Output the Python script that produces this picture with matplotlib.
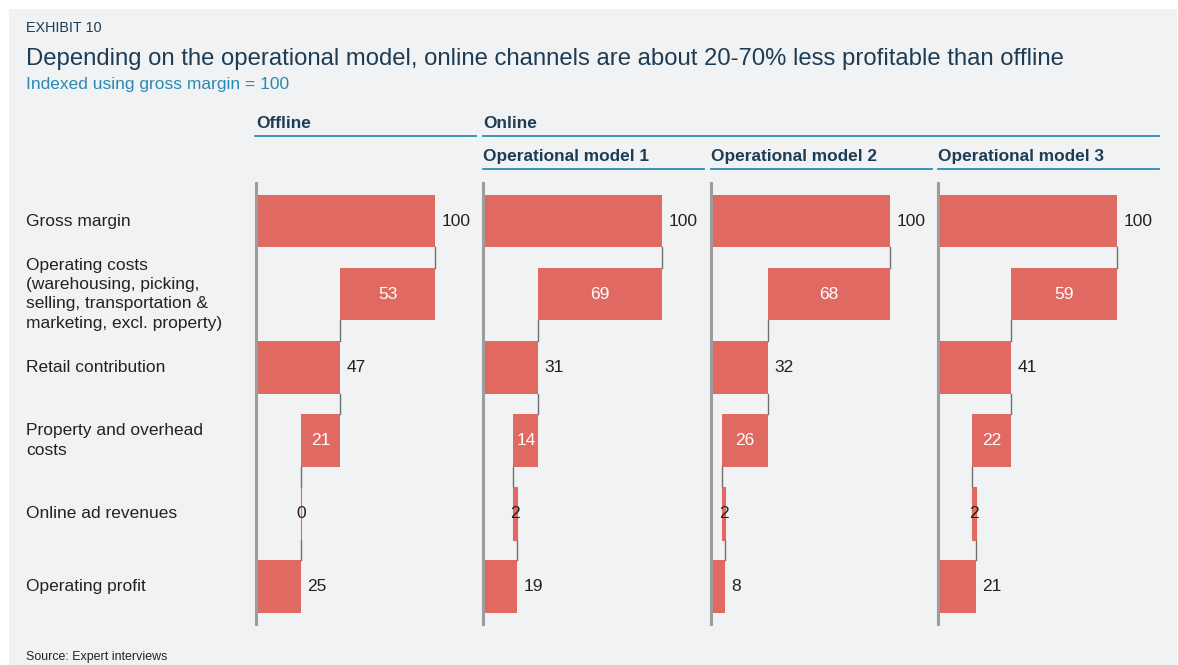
import matplotlib
matplotlib.use("Agg")
import matplotlib.pyplot as plt
from matplotlib.patches import Rectangle
from matplotlib.lines import Line2D
from matplotlib import transforms

plt.rcParams['font.family'] = ['Liberation Sans', 'DejaVu Sans']

# data
panels = ['Offline', 'Operational model 1', 'Operational model 2', 'Operational model 3']
row_labels = ['Gross margin',
              'Operating costs\n(warehousing, picking,\nselling, transportation &\nmarketing, excl. property)',
              'Retail contribution',
              'Property and overhead\ncosts',
              'Online ad revenues',
              'Operating profit']
gross = [100, 100, 100, 100]
op_costs = [53, 69, 68, 59]
retail = [47, 31, 32, 41]
property_costs = [21, 14, 26, 22]
ad_revenues = [0, 2, 2, 2]
profit = [25, 19, 8, 21]

BAR = '#e06a62'
NAVY = '#1d3c55'
TEAL = '#2b8ab3'
TXT = '#222222'
BG = '#f1f2f4'

W, H = 1178, 665
fig = plt.figure(figsize=(W / 100, H / 100), dpi=100, facecolor='white')

def fx(px):
    return px / W

def fy(py):
    return 1 - py / H

# grey panel background
fig.patches.append(Rectangle((fx(9), 0), fx(1177) - fx(9), fy(9), transform=fig.transFigure,
                             facecolor=BG, edgecolor='none', zorder=-5))

fig.text(fx(26), fy(28), 'EXHIBIT 10', fontsize=10.4, color=NAVY, va='center')
fig.text(fx(26), fy(59), 'Depending on the operational model, online channels are about 20-70% less profitable than offline',
         fontsize=17.2, color=NAVY, va='center')
fig.text(fx(26), fy(85), 'Indexed using gross margin = 100', fontsize=12.5, color=TEAL, va='center')
fig.text(fx(26), fy(657), 'Source: Expert interviews', fontsize=8.9, color=TXT, va='center')

# headers
fig.text(fx(256), fy(124), 'Offline', fontsize=12.4, fontweight='bold', color=NAVY, va='center')
fig.text(fx(483), fy(124), 'Online', fontsize=12.4, fontweight='bold', color=NAVY, va='center')
fig.lines.append(Line2D([fx(255), fx(476)], [fy(136), fy(136)], transform=fig.transFigure, color=TEAL, lw=1.3))
fig.lines.append(Line2D([fx(483), fx(1159)], [fy(136), fy(136)], transform=fig.transFigure, color=TEAL, lw=1.3))

lefts = [256, 483, 711, 938]
pw = 221
h = 0.72
for i, name in enumerate(panels):
    x0 = lefts[i]
    if i > 0:
        fig.text(fx(x0), fy(157), name, fontsize=12.4, fontweight='bold', color=NAVY, va='center')
        fig.lines.append(Line2D([fx(x0), fx(x0 + pw)], [fy(169), fy(169)], transform=fig.transFigure,
                                color=TEAL, lw=1.3))

    ax = fig.add_axes([fx(x0), fy(624), pw / W, (624 - 183) / H])
    ax.set_facecolor('none')
    ax.set_xlim(0, pw / 1.79)
    ax.set_ylim(5.51, -0.52)
    for s in ['top', 'right', 'bottom']:
        ax.spines[s].set_visible(False)
    ax.spines['left'].set_color('#9d9d9d')
    ax.spines['left'].set_linewidth(2.2)
    ax.set_xticks([])
    ax.set_yticks([])

    g, r, p, a, pr = gross[i], retail[i], property_costs[i], ad_revenues[i], profit[i]
    base = pr - a
    starts = [0, r, 0, base, base, 0]
    widths = [g, g - r, r, r - base, a, pr]
    for k in range(6):
        if k == 4:
            ax.barh(k, widths[k], left=starts[k], height=h, color=BAR, edgecolor=BAR, lw=0.8, zorder=2)
        else:
            ax.barh(k, widths[k], left=starts[k], height=h, color=BAR, lw=0, zorder=2)

    # connectors
    conn_x = [g, r, r, base, pr]
    for k in range(5):
        ax.plot([conn_x[k], conn_x[k]], [k + h / 2, k + 1 - h / 2], color='#707070', lw=1, zorder=1)

    # value labels
    outside = {0: g, 2: r, 5: pr}
    for k, v in outside.items():
        ax.annotate(str(v), (widths[k] + starts[k], k), xytext=(4.5, 0), textcoords='offset points',
                    ha='left', va='center', fontsize=12.5, color=TXT)
    ax.text(r + (g - r) / 2, 1, str(op_costs[i]), ha='center', va='center', fontsize=12.5, color='white', zorder=3)
    ax.text(base + (r - base) / 2, 3, str(p), ha='center', va='center', fontsize=12.5, color='white', zorder=3)
    ax.text(base + a / 2, 4, str(a), ha='center', va='center', fontsize=12.5, color=TXT, zorder=3)

    if i == 0:
        tr = transforms.blended_transform_factory(fig.transFigure, ax.transData)
        for k, lab in enumerate(row_labels):
            ax.text(fx(26), k, lab, transform=tr, ha='left', va='center', fontsize=12.5,
                    color=TXT, linespacing=1.36, clip_on=False)

fig.savefig('out.png', dpi=100, facecolor='white')
